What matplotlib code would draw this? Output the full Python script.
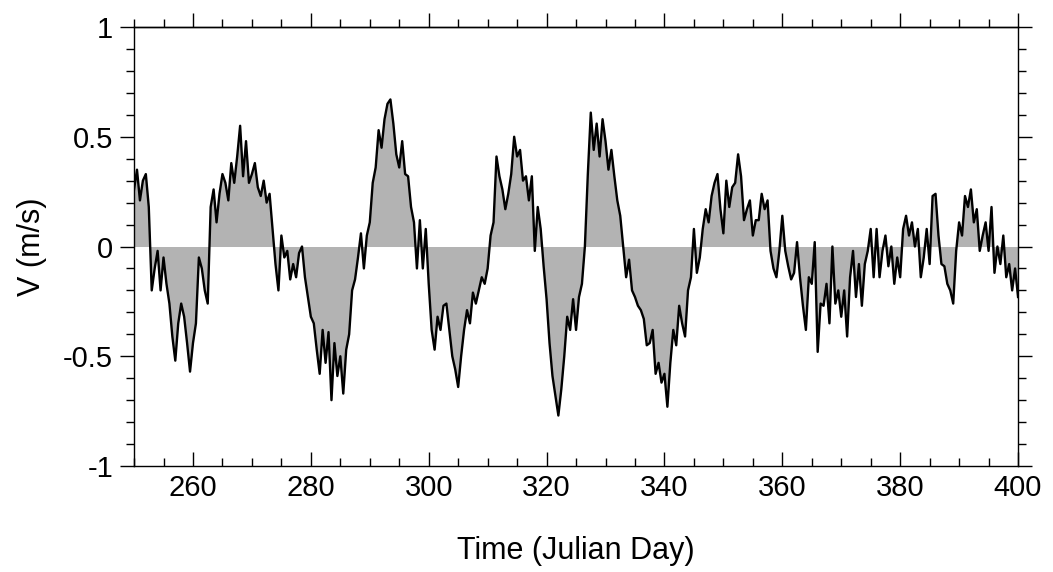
import numpy as np
import matplotlib
matplotlib.use("Agg")
import matplotlib.pyplot as plt
from matplotlib.ticker import MultipleLocator

plt.rcParams['font.family'] = ['Liberation Sans', 'DejaVu Sans']

# Time axis: half-day sampling from day 250 to 400
day_start = 250.0
day_step = 0.5

v = [
    # 250.0 - 261.5
    0.26, 0.35, 0.21, 0.30, 0.33, 0.18, -0.20, -0.10, -0.02, -0.20, -0.05, -0.17,
    -0.26, -0.41, -0.52, -0.35, -0.26, -0.32, -0.44, -0.57, -0.44, -0.35, -0.05, -0.10,
    # 262.0 - 274.5
    -0.20, -0.26, 0.18, 0.26, 0.11, 0.24, 0.33, 0.29, 0.21, 0.38, 0.29, 0.41, 0.55,
    0.32, 0.48, 0.29, 0.33, 0.38, 0.27, 0.23, 0.30, 0.20, 0.24, 0.08, -0.08, -0.20,
    # 275.0 - 286.5
    0.05, -0.05, -0.02, -0.15, -0.08, -0.14, -0.03, 0.0, -0.14, -0.23, -0.32, -0.35,
    -0.47, -0.58, -0.38, -0.53, -0.39, -0.70, -0.44, -0.59, -0.50, -0.67, -0.47, -0.40,
    # 287.0 - 299.5
    -0.20, -0.15, -0.05, 0.06, -0.10, 0.05, 0.11, 0.29, 0.36, 0.53, 0.45, 0.58, 0.65,
    0.67, 0.56, 0.42, 0.36, 0.48, 0.33, 0.32, 0.18, 0.11, -0.10, 0.12, -0.10, 0.08,
    # 300.0 - 312.0
    -0.17, -0.38, -0.47, -0.32, -0.38, -0.27, -0.26, -0.38, -0.50, -0.56, -0.64, -0.50,
    -0.38, -0.29, -0.35, -0.21, -0.26, -0.20, -0.14, -0.17, -0.10, 0.05, 0.11, 0.41, 0.32,
    # 312.5 - 324.5
    0.26, 0.17, 0.24, 0.33, 0.50, 0.41, 0.44, 0.30, 0.32, 0.21, 0.32, -0.02, 0.18,
    0.08, -0.09, -0.24, -0.44, -0.59, -0.68, -0.77, -0.65, -0.50, -0.32, -0.38, -0.24,
    # 325.0 - 337.0
    -0.38, -0.23, -0.17, 0.0, 0.33, 0.61, 0.44, 0.56, 0.41, 0.58, 0.48, 0.35, 0.44,
    0.32, 0.21, 0.14, 0.0, -0.14, -0.06, -0.20, -0.23, -0.27, -0.29, -0.33, -0.45,
    # 337.5 - 349.5
    -0.44, -0.38, -0.58, -0.53, -0.62, -0.58, -0.73, -0.53, -0.38, -0.45, -0.27, -0.35,
    -0.41, -0.20, -0.14, 0.08, -0.12, -0.05, 0.08, 0.17, 0.11, 0.23, 0.29, 0.33, 0.17,
    # 350.0 - 362.0
    0.06, 0.30, 0.18, 0.27, 0.29, 0.42, 0.32, 0.12, 0.17, 0.21, 0.05, 0.12, 0.12,
    0.24, 0.17, 0.21, -0.02, -0.10, -0.14, -0.02, 0.14, -0.02, -0.09, -0.15, -0.12,
    # 362.5 - 374.5
    0.02, -0.14, -0.27, -0.38, -0.14, -0.17, 0.02, -0.48, -0.26, -0.27, -0.17, -0.35,
    0.0, -0.26, -0.20, -0.32, -0.20, -0.41, -0.14, -0.02, -0.23, -0.08, -0.27, -0.08, -0.02,
    # 375.0 - 387.0
    0.08, -0.14, 0.08, -0.14, -0.02, 0.05, -0.09, 0.0, -0.17, -0.05, -0.14, 0.08, 0.14,
    0.05, 0.11, 0.0, 0.08, -0.14, -0.05, 0.08, -0.08, 0.23, 0.24, 0.05, -0.08,
    # 387.5 - 400.0
    -0.09, -0.17, -0.20, -0.26, -0.02, 0.11, 0.05, 0.23, 0.18, 0.26, 0.11, 0.17, -0.02,
    0.05, 0.11, -0.02, 0.18, -0.12, 0.0, -0.08, 0.05, -0.14, -0.08, -0.20, -0.10, -0.23,
]

v = np.array(v)
days = day_start + day_step * np.arange(len(v))

xlim = (250, 400)
ylim = (-1, 1)
xticks = [260, 280, 300, 320, 340, 360, 380, 400]
xticklabels = ["260", "280", "300", "320", "340", "360", "380", "400"]
yticks = [-1, -0.5, 0, 0.5, 1]
yticklabels = ["-1", "-0.5", "0", "0.5", "1"]

fig = plt.figure(figsize=(10.53, 5.72), dpi=100)
ax = fig.add_axes([0.1273, 0.1853, 0.8395, 0.7675])

ax.fill_between(days, 0, v, color="#b3b3b3", linewidth=0)
ax.plot(days, v, color="black", linewidth=1.7)

ax.set_xlim(*xlim)
ax.set_ylim(*ylim)
ax.set_xticks(xticks)
ax.set_xticklabels(xticklabels)
ax.set_yticks(yticks)
ax.set_yticklabels(yticklabels)
ax.xaxis.set_minor_locator(MultipleLocator(5))
ax.yaxis.set_minor_locator(MultipleLocator(0.1))

# y axis: outward ticks on both sides
ax.tick_params(axis="y", which="both", direction="out", right=True,
               labelright=False, width=1.0, color="black")
ax.tick_params(axis="y", which="major", length=10, labelsize=21, pad=5)
ax.tick_params(axis="y", which="minor", length=6)

# bottom x axis: inward ticks, labels close to axis
ax.tick_params(axis="x", which="both", direction="in", top=False, width=1.0)
ax.tick_params(axis="x", which="major", length=10, labelsize=21, pad=6)
ax.tick_params(axis="x", which="minor", length=6)

# top x axis: outward ticks, no labels
top = ax.secondary_xaxis("top")
top.set_xticks(xticks)
top.xaxis.set_minor_locator(MultipleLocator(5))
top.tick_params(which="both", direction="out", labeltop=False, width=1.0)
top.tick_params(which="major", length=10)
top.tick_params(which="minor", length=6)
top.spines["top"].set_linewidth(1.0)

for s in ax.spines.values():
    s.set_linewidth(1.0)

ax.set_xlabel("Time (Julian Day)", fontsize=22, labelpad=24)
ax.set_ylabel("V (m/s)", fontsize=22, labelpad=12)

fig.savefig("out.png", dpi=100)
